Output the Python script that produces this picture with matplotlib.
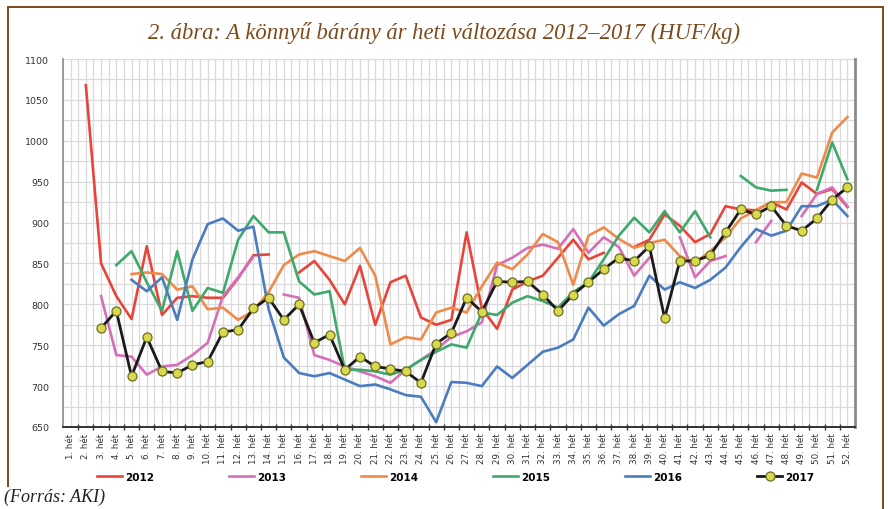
import numpy as np
import matplotlib.pyplot as plt
from matplotlib.lines import Line2D

nan = np.nan

weeks = list(range(1, 53))
week_labels = [f"{w}. hét" for w in weeks]
series_names = ["2012", "2013", "2014", "2015", "2016", "2017"]

y2012 = [nan, 1068, 850, 810, 782, 871, 787, 808, 810, 808,
         808, 832, 860, 861, nan, 839, 853, 830, 800, 847,
         775, 827, 835, 784, 775, 781, 888, 795, 770, 818,
         828, 835, 857, 879, 855, 863, nan, 870, 879, 910,
         896, 876, 886, 920, 916, 915, 925, 916, 949, 935,
         941, 919]
y2013 = [nan, nan, 810, 738, 736, 714, 724, 726, 738, 753,
         810, 833, 858, nan, 812, 808, 738, 732, 724, 718,
         712, 704, 720, 732, 745, 760, 767, 778, 848, 857,
         869, 873, 868, 892, 863, 882, 870, 835, 857, nan,
         882, 833, 853, 859, nan, 876, 902, nan, 908, 935,
         943, 920]
y2014 = [nan, nan, nan, nan, 837, 839, 837, 818, 822, 794,
         796, 781, 792, 815, 848, 861, 865, 859, 853, 869,
         835, 751, 760, 757, 790, 796, 790, 822, 851, 843,
         861, 886, 876, 824, 884, 894, 880, 869, 875, 879,
         859, 851, 865, 882, 905, 915, 925, 925, 960, 955,
         1010, 1029]
y2015 = [nan, nan, nan, 848, 865, 827, 792, 865, 792, 820,
         814, 879, 908, 888, 888, 828, 812, 816, 720, 720,
         718, 714, 720, 732, 742, 751, 747, 790, 787, 802,
         810, 804, 796, 815, 827, 855, 884, 906, 888, 914,
         888, 914, 882, nan, 957, 943, 939, 940, nan, 940,
         998, 953]
y2016 = [nan, nan, nan, nan, 830, 816, 833, 781, 855, 898,
         905, 890, 895, 794, 735, 716, 712, 716, 708, 700,
         702, 696, 689, 687, 656, 705, 704, 700, 724, 710,
         726, 742, 747, 757, 796, 774, 788, 798, 835, 818,
         827, 820, 830, 845, 870, 892, 884, 890, 920, 920,
         928, 908]
y2017 = [nan, nan, 771, 792, 712, 760, 718, 716, 726, 730,
         766, 769, 795, 808, 781, 800, 753, 763, 720, 736,
         724, 721, 718, 704, 752, 765, 808, 791, 828, 827,
         828, 812, 792, 812, 827, 843, 857, 853, 871, 783,
         853, 853, 860, 888, 916, 910, 920, 896, 890, 905,
         928, 943]

colors = ["#e8443a", "#d46fb8", "#f08a4b", "#3fa86c", "#4a7cc0", "#1a1a1a"]
brown = "#7d4a1c"

fig = plt.figure(figsize=(8.88, 5.10), dpi=100)
fig.patch.set_facecolor("white")

# outer brown frame (top, left, right)
fw, fh = 888.0, 510.0
fig.add_artist(Line2D([8 / fw, 883 / fw], [1 - 8 / fh, 1 - 8 / fh], color=brown, lw=1.4))
fig.add_artist(Line2D([8 / fw, 8 / fw], [1 - 8 / fh, 1 - 487 / fh], color=brown, lw=1.4))
fig.add_artist(Line2D([883 / fw, 883 / fw], [1 - 8 / fh, 0], color=brown, lw=1.4))

fig.text(0.5, 1 - 33 / fh, "2. ábra: A könnyű bárány ár heti változása 2012–2017 (HUF/kg)",
         ha="center", va="center", fontsize=16.3, style="italic",
         family="Liberation Serif", color=brown)
fig.text(4 / fw, 1 - 497 / fh, "(Forrás: AKI)", ha="left", va="center",
         fontsize=13, style="italic", family="Liberation Serif", color="#222222")

ax = fig.add_axes([63 / fw, 1 - 428 / fh, 792 / fw, 368 / fh])

data = [y2012, y2013, y2014, y2015, y2016, y2017]
for name, vals, col in zip(series_names, data, colors):
    if name == "2017":
        ax.plot(weeks, vals, color=col, lw=2.0, marker="o", markersize=6.5,
                markerfacecolor="#d9d94e", markeredgecolor="#6e6e22",
                markeredgewidth=0.9, label=name, zorder=5)
    else:
        ax.plot(weeks, vals, color=col, lw=1.9, label=name, zorder=3)

ax.set_xlim(0.5, 52.5)
ax.set_ylim(650, 1100)
ax.set_yticks(range(650, 1101, 50))
ax.set_yticks(range(650, 1101, 25), minor=True)
ax.set_xticks(weeks)
ax.set_xticklabels(week_labels, rotation=90, fontsize=6.3, color="#333333")
ax.set_xticks(np.arange(1.5, 52, 1.0), minor=True)
ax.tick_params(axis="y", which="both", length=0, labelsize=6.8, labelcolor="#333333", pad=10)
ax.tick_params(axis="x", which="major", length=0, pad=4)
ax.tick_params(axis="x", which="minor", length=4, direction="inout", color="#333333", width=1.0)

ax.grid(True, which="both", color="#dadada", lw=0.9, zorder=0)
ax.set_axisbelow(True)

ax.spines["top"].set_visible(False)
ax.spines["left"].set_color("#8a8a8a")
ax.spines["left"].set_linewidth(1.2)
ax.spines["right"].set_color("#8a8a8a")
ax.spines["right"].set_linewidth(2.0)
ax.spines["bottom"].set_color("#333333")
ax.spines["bottom"].set_linewidth(1.4)

handles, labels = ax.get_legend_handles_labels()
fig.legend(handles, labels, loc="center", ncol=6, bbox_to_anchor=(0.513, 1 - 478 / fh),
           frameon=False, handlelength=2.4, columnspacing=7.2,
           handletextpad=0.3, prop={"weight": "bold", "size": 7.5})

fig.savefig("out.png", dpi=100)
